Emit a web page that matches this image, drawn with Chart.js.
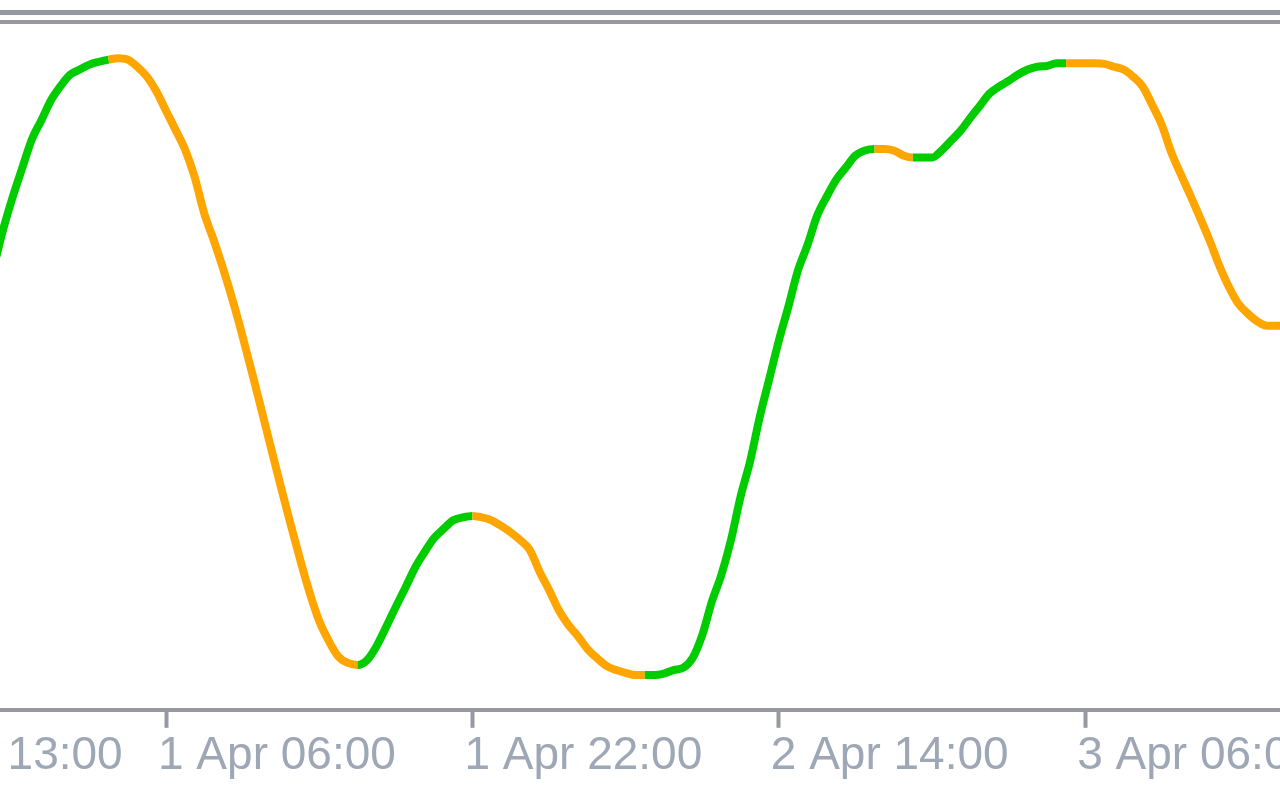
<!DOCTYPE html>
<html>
<head>
<meta charset="utf-8">
<script src="https://cdn.jsdelivr.net/npm/chart.js@4.4.1/dist/chart.umd.min.js"></script>
<style>
  html, body { margin: 0; padding: 0; background: #ffffff; overflow: hidden; width: 1280px; height: 800px; }
  #wrap { position: absolute; left: -320px; top: 0; width: 1700px; height: 800px; }
</style>
</head>
<body>
<div id="wrap"><canvas id="c" width="1700" height="800"></canvas></div>
<script>
// Time axis: hours relative to "1 Apr 06:00"; one reading every half hour
const startHour = -9;
const stepHours = 0.5;

// Oscillator readings (0..100)
const values = [
  62.3, 67.7, 72.3, 76.4, 80.4, 83.1, 85.9, 87.9, 89.5, 90.2,
  90.9, 91.3, 91.6, 91.8, 91.6, 90.6, 89.2, 87.1, 84.4, 81.7,
  78.9, 75.0, 69.9, 66.1, 62.0, 57.5, 52.6, 47.4, 42.1, 36.7,
  31.4, 26.2, 21.2, 16.5, 12.5, 9.7, 7.5, 6.6, 6.3, 7.0,
  9.0, 11.7, 14.5, 17.2, 20.0, 22.2, 24.2, 25.5, 26.7, 27.1,
  27.3, 27.1, 26.7, 25.9, 25.0, 23.9, 22.5, 19.5, 16.9, 14.1,
  12.0, 10.4, 8.6, 7.3, 6.2, 5.6, 5.2, 4.9, 4.9, 4.9,
  5.1, 5.6, 5.9, 7.3, 10.5, 15.2, 19.0, 23.9, 30.0, 35.0,
  41.2, 46.6, 52.0, 56.8, 61.9, 65.5, 69.6, 72.3, 74.7, 76.4,
  78.1, 78.8, 79.0, 79.0, 78.8, 78.1, 77.8, 77.8, 77.8, 78.8,
  80.2, 81.6, 83.4, 85.1, 86.8, 87.8, 88.6, 89.5, 90.2, 90.6,
  90.7, 91.1, 91.1, 91.1, 91.1, 91.1, 91.0, 90.6, 90.2, 89.2,
  87.8, 85.2, 82.4, 78.5, 75.4, 72.4, 69.3, 66.1, 62.6, 59.6,
  57.2, 55.8, 54.7, 54.1, 54.1, 54.1
];

// Reading index where the indicator's direction flips (starts rising)
const trendSwitches = [12, 38, 50, 68, 92, 96, 112];

// Time-axis ticks
const tickHours = [-16, 0, 16, 32, 48];
const tickLabels = ['31 Mar 13:00', '1 Apr 06:00', '1 Apr 22:00', '2 Apr 14:00', '3 Apr 06:00'];

const xMin = -25.379, xMax = 63.394;

const GREEN = '#00cc00';
const ORANGE = '#ffa500';
const FRAME = '#96999f';

const points = values.map((v, i) => ({ x: startHour + i * stepHours, y: v }));

function isRising(i) {
  let up = true;
  for (const s of trendSwitches) if (i >= s) up = !up;
  return up;
}

const framePlugin = {
  id: 'frame',
  beforeDraw(chart) {
    const ctx = chart.ctx;
    ctx.save();
    ctx.fillStyle = FRAME;
    ctx.fillRect(0, 10, chart.width, 5);
    ctx.fillRect(0, 20, chart.width, 4);
    ctx.restore();
  }
};

new Chart(document.getElementById('c'), {
  type: 'line',
  data: {
    datasets: [{
      data: points,
      borderWidth: 8,
      borderColor: GREEN,
      borderCapStyle: 'butt',
      borderJoinStyle: 'round',
      pointRadius: 0,
      cubicInterpolationMode: 'monotone',
      segment: {
        borderColor: ctx => isRising(ctx.p0DataIndex) ? GREEN : ORANGE
      }
    }]
  },
  options: {
    responsive: false,
    animation: false,
    events: [],
    layout: { autoPadding: false, padding: { top: 0, left: 0, right: 0, bottom: 15 } },
    plugins: { legend: { display: false }, tooltip: { enabled: false } },
    scales: {
      x: {
        type: 'linear',
        min: xMin,
        max: xMax,
        afterBuildTicks: scale => { scale.ticks = tickHours.map(v => ({ value: v })); },
        ticks: {
          autoSkip: false,
          maxRotation: 0,
          minRotation: 0,
          align: 'start',
          labelOffset: -8,
          padding: 1,
          color: '#9ea7b6',
          font: { family: '"Liberation Sans", Arial, sans-serif', size: 46, lineHeight: 1.2 },
          callback: v => {
            const k = tickHours.indexOf(v);
            return k >= 0 ? tickLabels[k] : '';
          }
        },
        grid: {
          display: true,
          drawOnChartArea: false,
          drawTicks: true,
          tickLength: 18,
          tickWidth: 4,
          tickColor: FRAME
        },
        border: { display: true, color: FRAME, width: 4 }
      },
      y: {
        display: false,
        min: 0,
        max: 100
      }
    }
  },
  plugins: [framePlugin]
});
</script>
</body>
</html>
